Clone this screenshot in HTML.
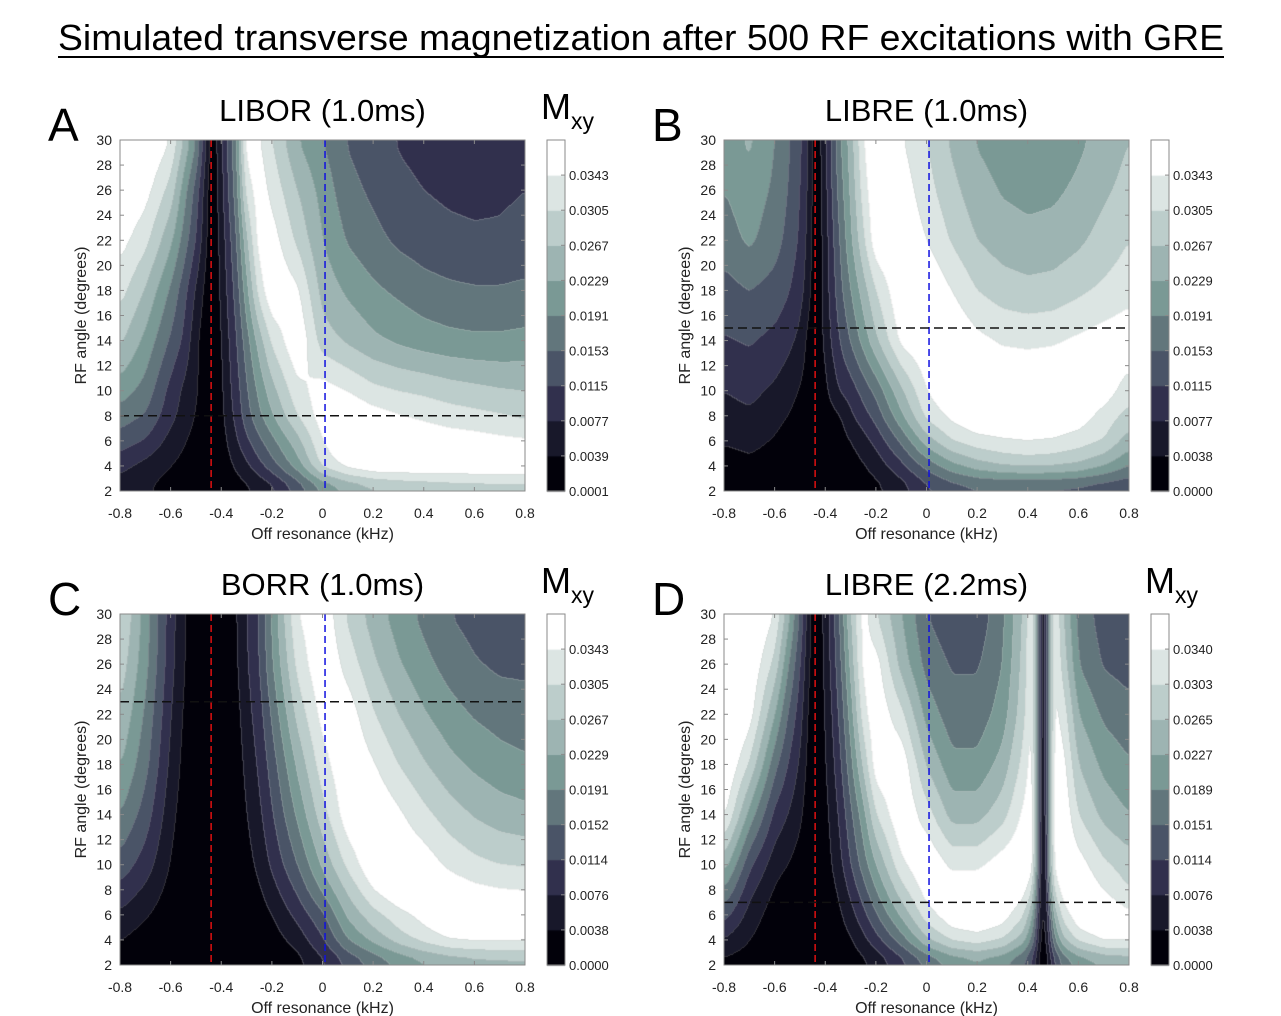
<!DOCTYPE html>
<html><head><meta charset="utf-8"><style>
html,body{margin:0;padding:0;background:#fff;}
#wrap{position:relative;width:1281px;height:1016px;overflow:hidden;font-family:"Liberation Sans",Arial,sans-serif;}
canvas{position:absolute;left:0;top:0;}
svg{position:absolute;left:0;top:0;}
</style></head><body>
<div id="wrap">
<canvas id="cv" width="1281" height="1016"></canvas>
<svg id="sv" width="1281" height="1016" xmlns="http://www.w3.org/2000/svg">
<text x="641" y="50" text-anchor="middle" font-size="36" textLength="1166" lengthAdjust="spacingAndGlyphs" fill="#000">Simulated transverse magnetization after 500 RF excitations with GRE</text>
<line x1="58" y1="57" x2="1224" y2="57" stroke="#000" stroke-width="2"/>
</svg>
</div>
<script>
// ---- data ----
const bandColors = ['#02010a','#18182a','#31304d','#4a5467','#62767c','#7a9995','#9db4b2','#bccdcb','#dce5e3','#ffffff'];
const rowAngles = [30,26,22,18,14,10,8,6,4,2];
const xTicks = [-0.8,-0.6,-0.4,-0.2,0,0.2,0.4,0.6,0.8];
const xTickLabels = ['-0.8','-0.6','-0.4','-0.2','0','0.2','0.4','0.6','0.8'];
const yTicks = [2,4,6,8,10,12,14,16,18,20,22,24,26,28,30];
const colsABC = [-0.8,-0.7,-0.6,-0.55,-0.5,-0.47,-0.44,-0.41,-0.38,-0.34,-0.3,-0.25,-0.2,-0.1,0,0.1,0.2,0.3,0.4,0.5,0.6,0.7,0.8];
const colsD = [-0.8,-0.7,-0.6,-0.55,-0.5,-0.47,-0.44,-0.41,-0.38,-0.34,-0.3,-0.25,-0.2,-0.1,0,0.1,0.2,0.3,0.38,0.42,0.44,0.46,0.48,0.5,0.54,0.6,0.7,0.8];
const valsA = [
[11,10.3,9.0,7.0,5.0,2.6,0.3, 1.3,2.9,5.0,9.8,9.1,8.0,6.0,5.0,3.9,3.5,2.9,2.6,2.4,2.3,2.4,2.6],
[10.2,9.4,7.6,5.5,3.5,1.8,0.2, 1.2,2.7,4.6,8.5,9.6,8.7,7.0,5.6,4.3,3.8,3.3,3.0,2.8,2.7,2.8,3.0],
[9.4,8.3,6.2,4.6,2.9,1.5,0.2, 1.0,2.3,4.0,6.8,9.6,9.5,7.8,6.0,4.9,4.3,3.8,3.5,3.3,3.2,3.2,3.4],
[8.4,6.9,4.8,3.4,1.8,0.9,0.1, 0.9,2.0,3.5,5.7,8.5,10,9.2,6.6,5.8,5.2,4.8,4.4,4.2,4.1,4.1,4.2],
[7.2,5.7,3.8,2.8,1.2,0.5,0.1, 0.7,1.7,3.0,4.6,6.5,8.2,10,7.5,6.8,6.2,5.8,5.5,5.3,5.2,5.2,5.3],
[5.5,4.6,2.6,1.8,1.1,0.5,0.05, 0.5,1.5,2.6,3.9,5.3,6.6,8.7,9.5,9.0,8.3,8.0,7.8,7.5,7.3,7.1,7.0],
[4.5,3.9,2.3,1.6,0.9,0.5,0, 0.5,1.3,2.4,3.6,4.8,5.9,8.0,9.6,10,9.5,9.1,8.8,8.5,8.3,8.1,7.8],
[3.5,2.9,1.6,1.1,0.6,0.3,0, 0.3,1.0,1.9,2.8,3.8,4.7,6.6,9.0,10,10,10,9.8,9.6,9.5,9.3,9.2],
[2.3,1.6,1.0,0.7,0.4,0.2,0, 0.2,0.6,1.2,1.8,2.7,3.6,5.5,8.3,9.5,10,10,10,10,10,10,10],
[1.3,1.0,0.5,0.3,0.2,0.1,0, 0.05,0.2,0.4,0.6,0.9,1.3,2.8,4.3,5.3,6.0,6.4,6.6,6.8,6.9,7.0,7.0]
];
const valsB = [
[5.5,6.2,5.0,4.2,3.2,2.0,0.3, 1.3,3.0,5.0,6.5,9.0,10.3,9.1,8.0,6.8,5.9,5.5,5.2,5.4,5.8,6.3,7.0],
[5.0,5.6,4.8,4.0,3.0,1.9,0.2, 1.2,2.8,4.6,6.2,8.5,10,9.6,8.4,7.3,6.4,5.9,5.7,5.8,6.2,6.8,7.4],
[4.5,5.2,4.4,3.7,2.8,1.7,0.2, 1.1,2.5,4.2,5.8,7.8,9.8,10,9.0,7.9,7.0,6.5,6.3,6.4,6.8,7.4,8.0],
[3.6,4.0,3.6,3.1,2.4,1.4,0.2, 1.1,2.3,3.8,5.0,6.5,8.0,10,10,9.0,8.0,7.5,7.3,7.4,7.8,8.2,8.6],
[2.9,3.1,2.7,2.3,1.7,0.7,0.1, 1.0,2.0,3.1,4.1,5.4,6.8,9.3,10,10,9.3,8.9,8.8,8.9,9.2,9.5,9.8],
[2.0,2.3,1.8,1.4,0.9,0.5,0.05, 0.5,1.3,2.1,2.5,3.4,4.3,6.8,9.0,10,10,10,10,10,10,9.6,8.5],
[1.6,1.8,1.3,1.0,0.6,0.3,0, 0.2,0.6,0.95,1.8,2.6,3.4,5.8,8.3,9.3,10,10,10,10,9.6,8.6,7.6],
[1.1,1.3,0.9,0.6,0.4,0.2,0, 0.1,0.3,0.6,1.0,1.6,2.3,4.2,6.5,8.0,8.6,8.9,9.05,8.9,8.5,8.0,6.5],
[0.5,0.7,0.5,0.3,0.2,0.1,0, 0,0.1,0.3,0.5,0.9,1.4,2.7,4.3,5.6,6.5,7.0,7.2,7.1,6.8,6.0,5.0],
[0.2,0.2,0.1,0.1,0,0,0, 0,0,0.1,0.2,0.4,0.6,1.3,2.4,3.0,3.2,3.1,3.0,3.0,2.9,2.8,2.7]
];
const valsC = [
[8.2,5.5,2.4,1.2,0,0,0, 0,0.1,1.0,2.0,3.1,5.2,9.0,9.8,7.8,6.5,5.5,4.7,4.0,3.6,3.3,3.1],
[7.6,5.3,2.3,1.1,0,0,0, 0,0.1,0.9,1.9,3.0,4.9,8.3,10,8.6,7.2,6.1,5.3,4.6,4.1,3.8,3.8],
[6.9,4.8,2.0,0.9,0,0,0, 0,0,0.7,1.6,2.6,4.2,7.3,9.4,9.6,8.1,7.0,6.1,5.4,4.9,4.6,4.4],
[6.1,4.3,1.7,0.7,0,0,0, 0,0,0.5,1.3,2.2,3.5,6.2,8.6,10,9.1,8.0,7.1,6.3,5.8,5.4,5.2],
[5.0,3.5,1.3,0.5,0,0,0, 0,0,0.3,1.0,1.8,2.9,5.2,7.6,9.7,10,9.2,8.3,7.5,6.9,6.5,6.3],
[3.6,2.5,0.9,0.3,0,0,0, 0,0,0.1,0.6,1.3,2.2,4.0,6.2,8.3,10,10,9.6,8.8,8.3,8.0,7.9],
[2.7,1.8,0.6,0.1,0,0,0, 0,0,0,0.3,0.9,1.6,3.2,5.2,7.2,9.0,10,10,9.7,9.3,9.1,9.0],
[1.8,1.1,0.3,0,0,0,0, 0,0,0,0.1,0.5,1.0,2.3,3.8,6.2,7.6,8.6,9.4,10,10,10,10],
[1.0,0.5,0.1,0,0,0,0, 0,0,0,0,0.2,0.5,1.4,2.9,5.0,6.3,7.5,8.4,9.1,9.3,9.3,9.2],
[0.4,0.2,0,0,0,0,0, 0,0,0,0,0,0,0.5,1.6,2.8,3.8,4.6,5.2,5.6,5.9,6.0,6.1]
];
const valsD = [
[11,10.5,9.0,6.5,3.8,1.5,0.2, 1.0,2.3,4.3,7.0,9.5,8.0,6.0,4.0,3.3,3.3,4.8,7.0,9.5,4.0,0.3,4.0,9.5,7.0,4.6,3.5,3.3],
[11,10,7.7,5.2,3.0,1.2,0.2, 0.9,2.1,3.9,6.3,9.4,9.5,6.6,4.6,3.9,3.9,5.0,7.3,9.3,4.0,0.3,4.0,9.3,7.6,5.0,3.9,3.6],
[10.8,9.5,6.0,4.0,2.4,0.9,0.1, 0.8,1.8,3.4,5.5,8.6,9.9,8.3,5.6,4.4,4.4,5.5,7.6,9.5,4.0,0.3,4.0,9.4,8.6,6.0,4.8,4.35],
[10.3,7.9,4.3,3.0,1.8,0.7,0.1, 0.7,1.5,2.9,4.7,7.2,9.7,9.8,6.9,5.3,5.3,6.4,8.3,9.7,4.0,0.2,4.0,9.6,9.4,7.0,5.7,5.1],
[9.3,5.6,2.7,2.0,1.2,0.4,0.1, 0.5,1.2,2.3,3.8,5.6,8.0,10,8.5,6.6,6.6,7.6,9.2,9.8,4.0,0.2,4.0,9.7,9.9,8.0,6.7,6.0],
[6.5,3.2,1.4,1.0,0.5,0.1,0, 0.3,0.9,1.8,3.0,4.5,6.0,8.8,10,8.8,8.8,9.6,10,9.6,3.5,0.1,3.5,9.3,10,9.5,8.2,7.5],
[4.9,2.3,0.9,0.5,0.2,0,0, 0.2,0.6,1.3,2.3,3.6,5.0,7.6,9.5,9.7,9.8,10,9.5,8.0,3.0,0.1,3.0,8.0,9.6,10,9.0,8.0],
[3.4,1.6,0.4,0.2,0,0,0, 0.1,0.4,0.9,1.6,2.7,3.9,6.2,8.6,9.8,10,9.6,8.2,6.0,2.5,0.1,2.5,6.0,8.5,9.8,10,9.3],
[1.9,1.0,0.2,0,0,0,0, 0,0.2,0.5,0.9,1.7,2.6,4.5,6.8,8.2,8.6,8.0,6.5,4.5,1.8,0,1.8,4.5,6.8,8.3,9.3,9.3],
[0.5,0.4,0,0,0,0,0, 0,0,0.1,0.3,0.6,1.0,2.2,3.5,4.5,5.0,4.5,3.5,2.2,0.8,0,0.8,2.2,3.6,4.5,5.2,5.5]
];
const cbLabelsA = ['0.0343','0.0305','0.0267','0.0229','0.0191','0.0153','0.0115','0.0077','0.0039','0.0001'];
const cbLabelsB = ['0.0343','0.0305','0.0267','0.0229','0.0191','0.0153','0.0115','0.0077','0.0038','0.0000'];
const cbLabelsC = ['0.0343','0.0305','0.0267','0.0229','0.0191','0.0152','0.0114','0.0076','0.0038','0.0000'];
const cbLabelsD = ['0.0340','0.0303','0.0265','0.0227','0.0189','0.0151','0.0114','0.0076','0.0038','0.0000'];
const redLine = [-0.44,-0.44,-0.44,-0.44];
const blueLine = [0.01,0.01,0.01,0.01];
const blackLine = [8,15,23,7];

const panels = [
 {id:'a',left:120,top:140,cols:colsABC,vals:valsA,cb:cbLabelsA,title:'LIBOR (1.0ms)',letter:'A',mxy:true,red:redLine[0],blue:blueLine[0],hl:blackLine[0]},
 {id:'b',left:724,top:140,cols:colsABC,vals:valsB,cb:cbLabelsB,title:'LIBRE (1.0ms)',letter:'B',mxy:false,red:redLine[1],blue:blueLine[1],hl:blackLine[1]},
 {id:'c',left:120,top:614,cols:colsABC,vals:valsC,cb:cbLabelsC,title:'BORR (1.0ms)',letter:'C',mxy:true,red:redLine[2],blue:blueLine[2],hl:blackLine[2]},
 {id:'d',left:724,top:614,cols:colsD,vals:valsD,cb:cbLabelsD,title:'LIBRE (2.2ms)',letter:'D',mxy:true,red:redLine[3],blue:blueLine[3],hl:blackLine[3]}
];
const PW=405, PH=351;
function xScale(p,x){return p.left+(x+0.8)/1.6*PW;}
function yScale(p,a){return p.top+(30-a)/28*PH;}
function hexRgb(h){return [parseInt(h.substr(1,2),16),parseInt(h.substr(3,2),16),parseInt(h.substr(5,2),16)];}
const rgbs = bandColors.map(hexRgb);

function sample(p,x,a){
  const c=p.cols; let i=0; while(i<c.length-2 && x>c[i+1]) i++;
  let tx=(x-c[i])/(c[i+1]-c[i]); tx=Math.max(0,Math.min(1,tx));
  let j=0; while(j<rowAngles.length-2 && a<rowAngles[j+1]) j++;
  let ty=(rowAngles[j]-a)/(rowAngles[j]-rowAngles[j+1]); ty=Math.max(0,Math.min(1,ty));
  const v=p.vals;
  return (v[j][i]*(1-tx)+v[j][i+1]*tx)*(1-ty)+(v[j+1][i]*(1-tx)+v[j+1][i+1]*tx)*ty;
}
function boxBlur(f,w,h,rx,ry){
  const t=new Float32Array(w*h);
  for(let y=0;y<h;y++)for(let x=0;x<w;x++){let s=0,n=0;for(let k=-rx;k<=rx;k++){const xx=x+k;if(xx>=0&&xx<w){s+=f[y*w+xx];n++;}}t[y*w+x]=s/n;}
  const o=new Float32Array(w*h);
  for(let y=0;y<h;y++)for(let x=0;x<w;x++){let s=0,n=0;for(let k=-ry;k<=ry;k++){const yy=y+k;if(yy>=0&&yy<h){s+=t[yy*w+x];n++;}}o[y*w+x]=s/n;}
  return o;
}

const ctx=document.getElementById('cv').getContext('2d');
panels.forEach(p=>{
  const img=ctx.createImageData(PW,PH);
  let field=new Float32Array(PW*PH);
  for(let py=0;py<PH;py++){
    const a=30-(py+0.5)/PH*28;
    for(let px=0;px<PW;px++){
      const x=-0.8+(px+0.5)/PW*1.6;
      field[py*PW+px]=Math.min(10.5,sample(p,x,a));
    }
  }
  field=boxBlur(field,PW,PH,3,8);
  field=boxBlur(field,PW,PH,2,7);
  const bands=new Int8Array(PW*PH);
  for(let k=0;k<PW*PH;k++){let b=Math.floor(field[k]);bands[k]=Math.max(0,Math.min(9,b));}
  for(let py=0;py<PH;py++)for(let px=0;px<PW;px++){
    const k=py*PW+px; const b=bands[k]; let c=rgbs[b].slice();
    const edge=(px>0&&bands[k-1]!==b)||(py>0&&bands[k-PW]!==b);
    if(edge){c=c.map(v=>Math.round(v*0.75+200*0.25));}
    img.data[k*4]=c[0];img.data[k*4+1]=c[1];img.data[k*4+2]=c[2];img.data[k*4+3]=255;
  }
  ctx.putImageData(img,p.left,p.top);
  const cbx=p.left+427;
  for(let b=0;b<10;b++){
    ctx.fillStyle=bandColors[b];
    ctx.fillRect(cbx,p.top+PH-(b+1)*PH/10,18,PH/10+0.5);
  }
});

const svg=document.getElementById('sv');
const NS='http://www.w3.org/2000/svg';
function mk(tag,attrs,parent){const e=document.createElementNS(NS,tag);for(const k in attrs)e.setAttribute(k,attrs[k]);(parent||svg).appendChild(e);return e;}

panels.forEach(p=>{
  const g=mk('g',{});
  
  
  const rl=mk('line',{x1:xScale(p,p.red),x2:xScale(p,p.red),y1:p.top,y2:p.top+PH,stroke:'#e01010','stroke-width':1.5,'stroke-dasharray':'7,4'},g);
  
  
  const bl=mk('line',{x1:xScale(p,p.blue),x2:xScale(p,p.blue),y1:p.top,y2:p.top+PH,stroke:'#1010e0','stroke-width':1.5,'stroke-dasharray':'7,4'},g);
  
  
  const hl=mk('line',{x1:p.left,x2:p.left+PW,y1:yScale(p,p.hl),y2:yScale(p,p.hl),stroke:'#111','stroke-width':1.5,'stroke-dasharray':'9,5'},g);
  
  
  const fr=mk('rect',{x:p.left,y:p.top,width:PW,height:PH,fill:'none',stroke:'#8a8a8a','stroke-width':1},g);
  
  
  xTicks.forEach((t,i)=>{
    const X=xScale(p,t);
    mk('line',{x1:X,x2:X,y1:p.top+PH,y2:p.top+PH-4,stroke:'#8a8a8a'},g);
    mk('line',{x1:X,x2:X,y1:p.top,y2:p.top+4,stroke:'#8a8a8a'},g);
    const tx=mk('text',{x:X,y:p.top+PH+27,'text-anchor':'middle','font-size':14,fill:'#222'},g);
    tx.textContent=xTickLabels[i];
    
    
  });
  yTicks.forEach(t=>{
    const Y=yScale(p,t);
    mk('line',{x1:p.left,x2:p.left+4,y1:Y,y2:Y,stroke:'#8a8a8a'},g);
    mk('line',{x1:p.left+PW,x2:p.left+PW-4,y1:Y,y2:Y,stroke:'#8a8a8a'},g);
    const ty=mk('text',{x:p.left-8,y:Y+5,'text-anchor':'end','font-size':14,fill:'#222'},g);
    ty.textContent=String(t);
    
    
  });
  const xt=mk('text',{x:p.left+PW/2,y:p.top+PH+48,'text-anchor':'middle','font-size':16,fill:'#222'},g);
  xt.textContent='Off resonance (kHz)';
  
  
  const cy=p.top+PH/2;
  const yt=mk('text',{x:p.left-34,y:cy,'text-anchor':'middle','font-size':16,fill:'#222',transform:'rotate(-90 '+(p.left-34)+' '+cy+')'},g);
  yt.textContent='RF angle (degrees)';
  
  
  const tt=mk('text',{x:p.left+PW/2,y:p.top-19,'text-anchor':'middle','font-size':31,fill:'#000'},g);
  tt.textContent=p.title;
  
  
  const lt=mk('text',{x:p.left-72,y:p.top+1,'font-size':46,fill:'#000'},g);
  lt.textContent=p.letter;
  
  
  if(p.mxy){
    const m=mk('text',{x:p.left+421,y:p.top-21,'font-size':36,fill:'#000'},g);
    m.textContent='M';
    
    
    const s=mk('text',{x:p.left+451,y:p.top-11,'font-size':23,fill:'#000'},g);
    s.textContent='xy';
    
    
  }
  const cbx=p.left+427;
  const cf=mk('rect',{x:cbx,y:p.top,width:18,height:PH,fill:'none',stroke:'#8a8a8a'},g);
  
  
  p.cb.forEach((lab,i)=>{
    const Y=p.top+PH/10*(i+1);
    mk('line',{x1:cbx+18,x2:cbx+14,y1:Y,y2:Y,stroke:'#8a8a8a'},g);
    const c=mk('text',{x:cbx+22,y:Y+5,'font-size':13,fill:'#222'},g);
    c.textContent=lab;
    
    
  });
});
</script>
</body></html>
